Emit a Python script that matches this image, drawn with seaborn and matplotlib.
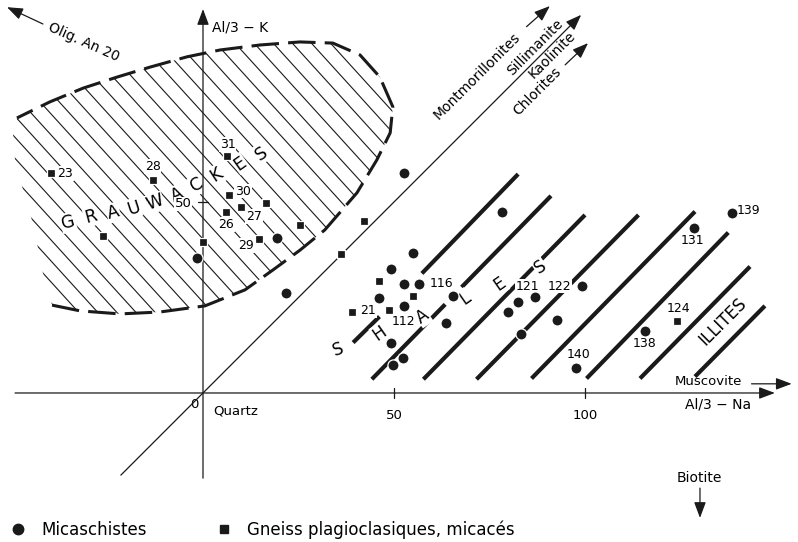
import numpy as np
import pandas as pd
import seaborn as sns
import matplotlib.pyplot as plt
from matplotlib.lines import Line2D
from matplotlib.patches import Polygon

# Micaschistes (circles)
mica_x = [52.6, 78.3, 55.1, 49.1, 52.5, 56.6, 46.0, 52.5, 65.5, 63.6, 49.1, 52.4, 49.7,
          82.4, 86.9, 79.9, 99.1, 92.7, 83.3, 97.6, 19.5, 21.7, -1.7, 138.4, 128.6, 115.7]
mica_y = [57.5, 47.5, 36.7, 32.4, 28.5, 28.5, 24.8, 22.9, 25.5, 18.4, 13.2, 9.2, 7.3,
          23.8, 25.0, 21.3, 28.0, 19.2, 15.4, 6.5, 40.6, 26.1, 35.4, 47.2, 43.2, 16.2]
mica_lab = ["", "", "", "", "", "116", "", "", "", "", "", "", "",
            "", "121", "", "122", "", "", "140", "", "", "", "139", "131", "138"]

# Gneiss plagioclasiques, micaces (squares)
gneiss_x = [-39.9, -13.2, 6.2, 6.9, 6.0, 10.0, 16.4, 14.7, 25.4, -26.1, 0.1, 42.1, 36.0,
            46.2, 55.1, 39.1, 48.7, 124.0]
gneiss_y = [57.5, 55.8, 62.0, 51.8, 47.5, 48.6, 49.7, 40.4, 43.9, 41.1, 39.5, 45.1, 36.4,
            29.4, 25.5, 21.3, 21.6, 18.9]
gneiss_lab = ["23", "28", "31", "30", "26", "27", "", "29", "", "", "", "", "",
              "", "", "21", "112", "124"]

# greywacke field: dashed outline (bottom -> right -> top) and open left side
gw_x = [-39.5, -32.2, -21.7, -11.3, 0.5, 11.0, 18.3, 25.4, 31.9, 40.3, 45.5, 49.0, 49.7,
        46.3, 41.1, 34.0, 25.4, 14.9, 4.5, -4.2, -13.9, -22.5, -31.4, -40.1, -48.7]
gw_y = [23.0, 21.5, 20.7, 21.2, 22.8, 27.0, 32.2, 37.4, 42.7, 52.4, 61.0, 68.1, 74.9,
        82.7, 88.5, 91.6, 91.9, 91.1, 89.8, 88.0, 85.3, 82.7, 79.8, 76.2, 72.0]
gw_left_x = [-49.7, -49.2, -47.1, -44.8, -43.2, -41.9]
gw_left_y = [67.5, 61.0, 53.1, 45.3, 38.0, 31.4]

# shale field bars
shale_x0 = [39.3, 44.2, 57.3, 67.7, 57.7, 71.6, 86.0, 100.4, 114.4, 128.8]
shale_y0 = [13.2, 3.6, 31.3, 27.7, 3.6, 3.6, 3.8, 3.8, 3.8, 4.3]
shale_x1 = [46.2, 63.4, 82.5, 91.1, 100.0, 114.0, 128.8, 137.5, 143.2, 147.1]
shale_y1 = [20.0, 23.2, 57.3, 51.6, 46.6, 46.6, 47.5, 42.0, 33.1, 22.8]

gw_letters = list("GRAUWACKES")
gw_let_x = [-35.3, -29.4, -23.5, -18.2, -12.6, -6.9, -1.6, 3.6, 9.7, 15.2]
gw_let_y = [44.6, 46.2, 47.2, 48.4, 49.8, 51.8, 54.5, 57.1, 60.1, 62.7]
sh_letters = list("SHALES")
sh_let_x = [35.4, 46.3, 57.5, 68.6, 77.7, 88.2]
sh_let_y = [11.3, 15.6, 20.0, 24.8, 28.5, 33.1]

# label placement (offset in px from the point, alignment)
label_pos = {
    "116": (10.7, 1, "left"), "121": (-7.5, 11, "center"), "122": (-10, 0, "right"),
    "140": (2.6, 14, "center"), "139": (5, 1.7, "left"), "131": (-1.5, -12.7, "center"),
    "138": (0, -12.3, "center"), "23": (7, 0, "left"), "28": (0, 13, "center"),
    "31": (1, 12, "center"), "30": (6, 4, "left"), "26": (0, -13, "center"),
    "27": (5, -9, "left"), "29": (-5, -7, "right"), "21": (8, 1, "left"),
    "112": (14, -10.7, "center"), "124": (1.7, 12.4, "center"),
}

sns.set_theme(style="white")
plt.rcParams["font.family"] = ["DejaVu Sans"]
plt.rcParams["text.color"] = "black"

fig = plt.figure(figsize=(7.98, 5.42), dpi=100)
ax = fig.add_axes([0, 0, 1, 1])

# hatching of the greywacke field
field = Polygon(np.column_stack([gw_x + gw_left_x, gw_y + gw_left_y]), closed=True,
                fc="none", ec="none")
ax.add_patch(field)
xs = np.array([-60.0, 60.0])
for c in np.arange(12.8 - 6 * 5.5, 135, 5.5):
    ln, = ax.plot(xs, -1.1 * xs + c, color="k", lw=0.8, zorder=1)
    ln.set_clip_path(field)
ax.plot(gw_x, gw_y, color="k", lw=2.2, ls=(0, (9, 3)), zorder=2, dash_capstyle="butt")

# shales
for x0, y0, x1, y1 in zip(shale_x0, shale_y0, shale_x1, shale_y1):
    ax.plot([x0, x1], [y0, y1], color="k", lw=3.0, solid_capstyle="butt", zorder=2)


def arrow(x0, y0, x1, y1, lw=0.9):
    ax.annotate("", xy=(x1, y1), xytext=(x0, y0), zorder=3.5,
                arrowprops=dict(arrowstyle="-|>,head_length=0.8,head_width=0.3",
                                color="k", lw=lw, shrinkA=0, shrinkB=0, mutation_scale=12))


# axes, diagonal and end-member arrows
arrow(-49.2, 0, 149.7, 0)
arrow(0, -22.3, 0, 100.5)
arrow(-21.5, -21.5, 99.0, 99.0)
arrow(143.6, 2.4, 154.1, 2.4)
arrow(84.7, 95.9, 90.8, 101.3)
arrow(94.8, 85.9, 100.8, 91.6)
arrow(130.1, -24.9, 130.1, -32.7)
arrow(-41.9, 96.6, -51.3, 101.0)
for t in [50, 100]:
    ax.plot([t, t], [-1.4, 1.4], color="k", lw=0.9, zorder=3.5)
ax.plot([-1.2, 1.2], [50, 50], color="k", lw=0.9, zorder=3.5)

# points
mica = pd.DataFrame({"x": mica_x, "y": mica_y, "label": mica_lab})
gneiss = pd.DataFrame({"x": gneiss_x, "y": gneiss_y, "label": gneiss_lab})
sns.scatterplot(data=mica, x="x", y="y", marker="o", s=64, color="k", edgecolor="white",
                linewidth=0.9, ax=ax, legend=False, zorder=4)
sns.scatterplot(data=gneiss, x="x", y="y", marker="s", s=40, color="k", edgecolor="white",
                linewidth=0.9, ax=ax, legend=False, zorder=4)

white = dict(fc="white", ec="none", pad=0.6)
for df in (mica, gneiss):
    for x, y, lab in zip(df["x"], df["y"], df["label"]):
        if lab:
            dx, dy, ha = label_pos[lab]
            ax.annotate(lab, (x, y), xytext=(dx * 0.72, dy * 0.72), textcoords="offset points",
                        ha=ha, va="center", fontsize=9, bbox=white, zorder=3)

gw_rot = [15, 15, 15, 18, 20, 25, 30, 33, 35, 35]
for ch, x, y, r in zip(gw_letters, gw_let_x, gw_let_y, gw_rot):
    ax.text(x, y, ch, fontsize=12.5, rotation=r, ha="center", va="center", bbox=white, zorder=3)
sh_rot = [20, 35, 35, 35, 35, 35]
for ch, x, y, r in zip(sh_letters, sh_let_x, sh_let_y, sh_rot):
    ax.text(x, y, ch, fontsize=12, rotation=r, ha="center", va="center", bbox=white, zorder=3)
ax.text(136.2, 18.7, "ILLITES", fontsize=12, rotation=45, ha="center", va="center", zorder=3)

ax.text(-31.1, 91.8, "Olig. An 20", fontsize=10, rotation=-24, ha="center", va="center")
ax.text(2.4, 95.8, "Al/3 \u2212 K", fontsize=10, ha="left", va="center")
ax.text(71.6, 83.1, "Montmorillonites", fontsize=10, rotation=45, ha="center", va="center")
ax.text(87.0, 90.4, "Sillimanite", fontsize=10, rotation=45, ha="center", va="center")
ax.text(91.5, 88.5, "Kaolinite", fontsize=10, rotation=45, ha="center", va="center")
ax.text(87.6, 78.9, "Chlorites", fontsize=10, rotation=45, ha="center", va="center")
ax.text(123.6, 3.0, "Muscovite", fontsize=9.5, ha="left", va="center")
ax.text(126.2, -3.1, "Al/3 \u2212 Na", fontsize=10, ha="left", va="center")
ax.text(130.0, -22.3, "Biotite", fontsize=10, ha="center", va="center")
ax.text(-1.3, -3.1, "0", fontsize=9.5, ha="right", va="center")
ax.text(2.6, -4.7, "Quartz", fontsize=9.5, ha="left", va="center")
ax.text(-3.0, 49.5, "50", fontsize=9.5, ha="right", va="center", bbox=white, zorder=3)
for t in [50, 100]:
    ax.text(t, -5.8, str(t), fontsize=9.5, ha="center", va="center")

handles = [Line2D([], [], marker="o", ls="", color="k", markersize=7.5),
           Line2D([], [], marker="s", ls="", color="k", markersize=5.5)]
leg = ax.legend(handles, ["Micaschistes", "Gneiss plagioclasiques, micacés"], ncol=2,
                loc="center left", bbox_to_anchor=(8.3 / 798, 12 / 542), frameon=False,
                fontsize=12, handlelength=1.2, handletextpad=0.8, columnspacing=4.0,
                borderaxespad=0, borderpad=0)
for txt in leg.get_texts():
    txt.set_color("black")

ax.set_xlim(-53.14, 155.76)
ax.set_ylim(-39.01, 102.88)
ax.axis("off")
fig.savefig("out.png", dpi=100, facecolor="white")
